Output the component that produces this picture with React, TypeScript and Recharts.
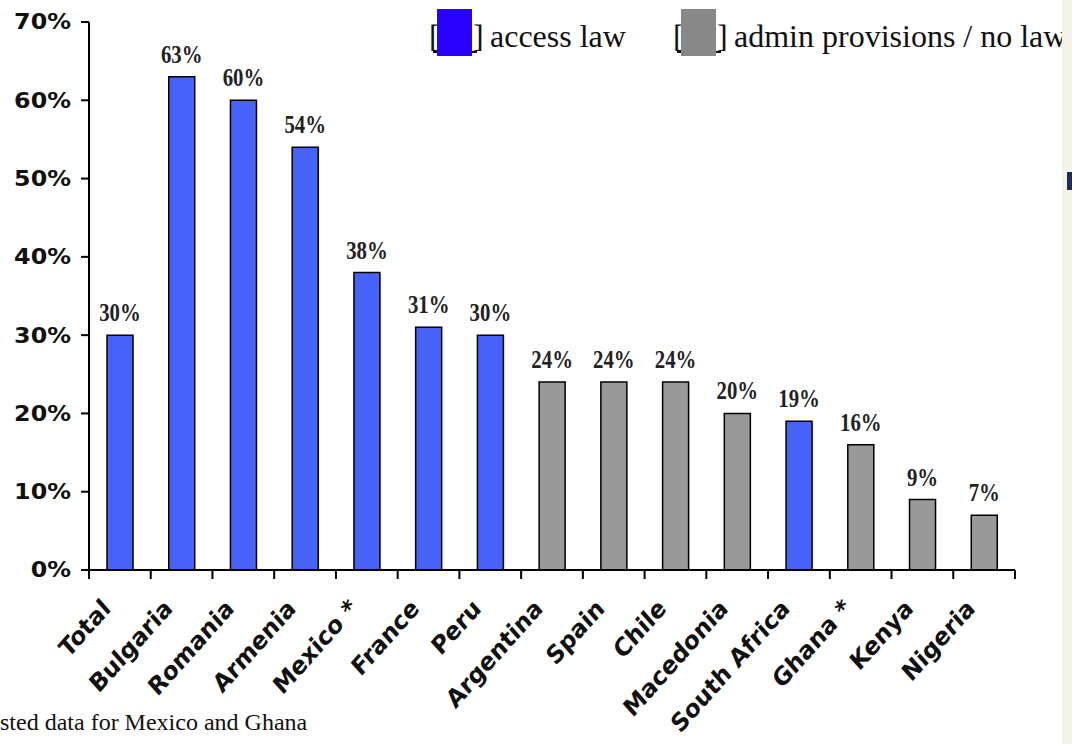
import React from 'react';
import { BarChart, Bar, XAxis, YAxis, Cell, LabelList } from 'recharts';

const categories = ['Total', 'Bulgaria', 'Romania', 'Armenia', 'Mexico *', 'France', 'Peru', 'Argentina', 'Spain', 'Chile', 'Macedonia', 'South Africa', 'Ghana *', 'Kenya', 'Nigeria'];
const values = [30, 63, 60, 54, 38, 31, 30, 24, 24, 24, 20, 19, 16, 9, 7];
const hasAccessLaw = [true, true, true, true, true, true, true, false, false, false, false, true, false, false, false];
const yTicks = [0, 10, 20, 30, 40, 50, 60, 70];
const legendLabels = ['access law', 'admin provisions / no law'];
const footnote = 'sted data for Mexico and Ghana';

const data = categories.map((name, i) => ({ name, value: values[i], access: hasAccessLaw[i] }));

const BLUE = '#4762f9';
const GRAY = '#999999';
const LEGEND_BLUE = '#2a00ff';
const LEGEND_GRAY = '#888888';

const XTick = (props: any) => {
  const { x, y, payload, index } = props;
  const half = payload.offset || 0;
  const last = index === categories.length - 1;
  const tx = x - 8;
  const ty = y + 40;
  return (
    <g>
      <line x1={x - half} y1={y} x2={x - half} y2={y + 9} stroke="#000" strokeWidth={2} />
      {last && <line x1={x + half} y1={y} x2={x + half} y2={y + 9} stroke="#000" strokeWidth={2} />}
      <text
        x={0}
        y={0}
        textAnchor="end"
        transform={`translate(${tx} ${ty}) scale(1.07 1.2) rotate(-45)`}
        fontFamily="DejaVu Sans"
        fontWeight="bold"
        fontSize={21}
        fill="#111"
      >
        {payload.value}
      </text>
    </g>
  );
};

const YTick = (props: any) => {
  const { x, y, payload } = props;
  return (
    <text
      transform={`translate(${x} ${y}) scale(1.16 1)`}
      x={0}
      y={0}
      dy="0.36em"
      textAnchor="end"
      fontFamily="DejaVu Sans"
      fontWeight="bold"
      fontSize={20.5}
      fill="#111"
    >
      {`${payload.value}%`}
    </text>
  );
};

const ValueLabel = (props: any) => {
  const { x, y, width, value } = props;
  const cx = x + width / 2;
  const ty = y - 14;
  return (
    <text
      transform={`translate(${cx} ${ty}) scale(0.8 1)`}
      x={0}
      y={0}
      textAnchor="middle"
      fontFamily="Liberation Serif"
      fontWeight="bold"
      fontSize={26}
      fill="#222"
    >
      {`${value}%`}
    </text>
  );
};

const LegendItem = ({ x, color, label }: { x: number; color: string; label: string }) => (
  <g>
    <text x={x} y={47} fontFamily="Liberation Serif" fontSize={32} fill="#111">[</text>
    <line x1={x + 4} y1={52} x2={x + 48} y2={52} stroke="#111" strokeWidth={2} />
    <rect x={x + 8} y={9} width={35} height={47} fill={color} />
    <text x={x + 44} y={47} fontFamily="Liberation Serif" fontSize={32} fill="#111">]</text>
    <text x={x + 61} y={47} fontFamily="Liberation Serif" fontSize={32} fill="#111">{label}</text>
  </g>
);

export default function App() {
  return (
    <div style={{ position: 'absolute', left: 0, top: 0, width: 1072, height: 744, background: '#fff', overflow: 'hidden' }}>
      <BarChart
        width={1072}
        height={744}
        data={data}
        margin={{ top: 22, right: 57, left: 0, bottom: 0 }}
        barCategoryGap={0}
      >
        <XAxis
          dataKey="name"
          interval={0}
          height={174}
          tickLine={false}
          tickSize={0}
          tickMargin={0}
          axisLine={{ stroke: '#000', strokeWidth: 2 }}
          tick={<XTick />}
        />
        <YAxis
          type="number"
          domain={[0, 70]}
          ticks={yTicks}
          width={89}
          interval={0}
          tickSize={8}
          tickMargin={10}
          axisLine={{ stroke: '#000', strokeWidth: 2 }}
          tickLine={{ stroke: '#000', strokeWidth: 2 }}
          tick={<YTick />}
        />
        <Bar dataKey="value" barSize={26} stroke="#000" strokeWidth={1.5} isAnimationActive={false}>
          {data.map((d, i) => (
            <Cell key={i} fill={d.access ? BLUE : GRAY} />
          ))}
          <LabelList dataKey="value" content={<ValueLabel />} />
        </Bar>
      </BarChart>
      <svg width={1072} height={744} style={{ position: 'absolute', left: 0, top: 0, pointerEvents: 'none' }}>
        <LegendItem x={429} color={LEGEND_BLUE} label={legendLabels[0]} />
        <LegendItem x={673} color={LEGEND_GRAY} label={legendLabels[1]} />
        <text x={0} y={730} fontFamily="Liberation Serif" fontSize={24} fill="#111">{footnote}</text>
        <rect x={1062} y={0} width={10} height={744} fill="#f3f3e9" />
        <rect x={1067} y={172} width={5} height={18} fill="#1c2c5c" />
      </svg>
    </div>
  );
}
